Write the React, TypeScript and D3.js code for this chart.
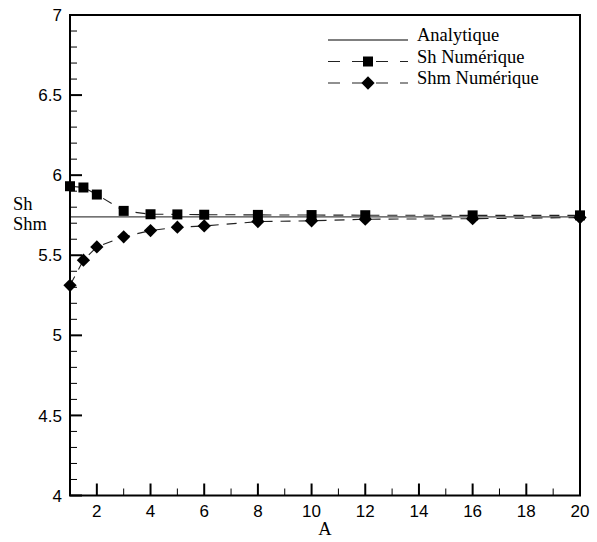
import React, { useRef, useEffect } from 'react';
import * as d3 from 'd3';

// données
const aValues = [1, 1.5, 2, 3, 4, 5, 6, 8, 10, 12, 16, 20];
const shNum = [5.931, 5.923, 5.879, 5.777, 5.756, 5.755, 5.753, 5.752, 5.751, 5.75, 5.749, 5.749];
const shmNum = [5.3125, 5.469, 5.552, 5.615, 5.654, 5.675, 5.683, 5.71, 5.715, 5.725, 5.728, 5.735];
const analytique = 5.74;
const yTicks = [4, 4.5, 5, 5.5, 6, 6.5, 7];
const xTicks = [2, 4, 6, 8, 10, 12, 14, 16, 18, 20];
const legendLabels = ['Analytique', 'Sh Numérique', 'Shm Numérique'];

const W = 597;
const H = 542;

const App = () => {
  const svgRef = useRef<SVGSVGElement>(null);

  useEffect(() => {
    const svg = d3.select(svgRef.current);
    svg.selectAll('*').remove();

    const left = 70, right = 580, top = 15, bottom = 495.5;
    const x = d3.scaleLinear().domain([1, 20]).range([left, right]);
    const y = d3.scaleLinear().domain([4, 7]).range([bottom, top]);

    const serif = '"Liberation Serif", "Times New Roman", serif';
    const sans = '"Liberation Sans", Arial, sans-serif';

    // ligne analytique
    svg.append('line')
      .attr('x1', x(1)).attr('x2', x(20))
      .attr('y1', y(analytique)).attr('y2', y(analytique))
      .attr('stroke', '#444').attr('stroke-width', 1.3);

    const line = d3.line<[number, number]>().x(d => x(d[0])).y(d => y(d[1]));

    // le losange = carré tourné de 45°
    const series = [
      { vals: shNum, size: 100, rot: 0 },
      { vals: shmNum, size: 88, rot: 45 }
    ];
    const marker = d3.symbol().type(d3.symbolSquare);

    series.forEach(s => {
      const pts = aValues.map((a, i) => [a, s.vals[i]] as [number, number]);
      svg.append('path')
        .attr('d', line(pts))
        .attr('fill', 'none')
        .attr('stroke', '#222')
        .attr('stroke-width', 1.1)
        .attr('stroke-dasharray', '10,8');
      svg.selectAll(null)
        .data(pts)
        .enter()
        .append('path')
        .attr('transform', d => `translate(${x(d[0])},${y(d[1])}) rotate(${s.rot})`)
        .attr('d', marker.size(s.size)())
        .attr('fill', '#000');
    });

    // cadre
    svg.append('rect')
      .attr('x', left).attr('y', top)
      .attr('width', right - left).attr('height', bottom - top)
      .attr('fill', 'none').attr('stroke', '#000').attr('stroke-width', 2);

    // graduations Y
    const yMinor = d3.range(40, 71).map(v => v / 10);
    svg.selectAll(null)
      .data(yMinor)
      .enter()
      .append('line')
      .attr('x1', left).attr('x2', d => left + (yTicks.includes(d) ? 12 : 7))
      .attr('y1', d => y(d)).attr('y2', d => y(d))
      .attr('stroke', '#000')
      .attr('stroke-width', d => (yTicks.includes(d) ? 2 : 1));

    svg.selectAll(null)
      .data(yTicks)
      .enter()
      .append('text')
      .attr('x', left - 8)
      .attr('y', d => y(d))
      .attr('dy', '0.36em')
      .attr('text-anchor', 'end')
      .style('font-family', sans)
      .style('font-size', '17px')
      .text(d => d3.format('~g')(d));

    // graduations X
    const xMinor = d3.range(2, 21);
    svg.selectAll(null)
      .data(xMinor)
      .enter()
      .append('line')
      .attr('x1', d => x(d)).attr('x2', d => x(d))
      .attr('y1', bottom).attr('y2', d => bottom - (d % 2 === 0 ? 12 : 7))
      .attr('stroke', '#000')
      .attr('stroke-width', d => (d % 2 === 0 ? 2 : 1));

    svg.selectAll(null)
      .data(xTicks)
      .enter()
      .append('text')
      .attr('x', d => x(d))
      .attr('y', bottom + 21)
      .attr('text-anchor', 'middle')
      .style('font-family', sans)
      .style('font-size', '17px')
      .text(d => d);

    // titres des axes
    svg.append('text')
      .attr('x', (left + right) / 2).attr('y', 535)
      .attr('text-anchor', 'middle')
      .style('font-family', serif).style('font-size', '18.5px')
      .text('A');
    svg.append('text')
      .attr('x', 13).attr('y', 210)
      .style('font-family', serif).style('font-size', '18.5px')
      .text('Sh');
    svg.append('text')
      .attr('x', 13).attr('y', 230)
      .style('font-family', serif).style('font-size', '18.5px')
      .text('Shm');

    // légende
    const lg = svg.append('g');
    const rowY = [40, 61.5, 83];
    lg.append('line')
      .attr('x1', 328).attr('x2', 408).attr('y1', rowY[0]).attr('y2', rowY[0])
      .attr('stroke', '#000').attr('stroke-width', 1.2);
    [1, 2].forEach(i => {
      lg.append('line')
        .attr('x1', 328).attr('x2', 408).attr('y1', rowY[i]).attr('y2', rowY[i])
        .attr('stroke', '#222').attr('stroke-width', 1.1)
        .attr('stroke-dasharray', '12,12');
      lg.append('path')
        .attr('transform', `translate(368,${rowY[i]}) rotate(${series[i - 1].rot})`)
        .attr('d', marker.size(series[i - 1].size)())
        .attr('fill', '#000');
    });
    lg.selectAll(null)
      .data(legendLabels)
      .enter()
      .append('text')
      .attr('x', 417)
      .attr('y', (d, i) => rowY[i] + 1)
      .style('font-family', serif)
      .style('font-size', '18.5px')
      .text(d => d);
  }, []);

  return (
    <svg
      ref={svgRef}
      width={W}
      height={H}
      style={{ position: 'absolute', left: 0, top: 0, background: '#fff' }}
    />
  );
};

export default App;
